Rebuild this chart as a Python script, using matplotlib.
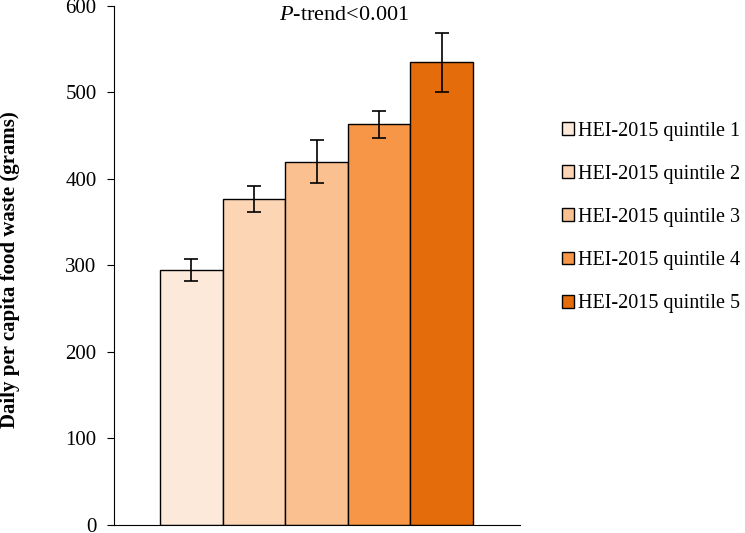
import numpy as np
import matplotlib.pyplot as plt

labels = ['HEI-2015 quintile 1', 'HEI-2015 quintile 2', 'HEI-2015 quintile 3',
          'HEI-2015 quintile 4', 'HEI-2015 quintile 5']
means = [295, 377, 420, 463, 535]
errs = [13, 15, 25, 16, 34]
colors = ['#FDE9D9', '#FCD5B5', '#FAC090', '#F79646', '#E46C0A']

plt.rcParams['font.family'] = ['Liberation Serif', 'DejaVu Serif']
plt.rcParams['mathtext.fontset'] = 'custom'
plt.rcParams['mathtext.it'] = 'Liberation Serif:italic'
plt.rcParams['mathtext.rm'] = 'Liberation Serif'

fig = plt.figure(figsize=(7.45, 5.33), dpi=100)
ax = fig.add_axes([0.153, 0.015, 0.545, 0.974])

x = np.arange(len(means))
handles = []
for i in range(len(means)):
    b = ax.bar(x[i], means[i], width=1.0, color=colors[i], edgecolor='black',
               linewidth=1.0, label=labels[i])
    handles.append(b)
ax.errorbar(x, means, yerr=errs, fmt='none', ecolor='black', elinewidth=1.2,
            capsize=5, capthick=1.2)

ax.set_xlim(-1.235, 5.25)
ax.set_ylim(0, 600)
ax.set_yticks(range(0, 601, 100))
ax.set_xticks([])
ax.spines['top'].set_visible(False)
ax.spines['right'].set_visible(False)
ax.tick_params(axis='y', direction='out', length=5, labelsize=15, pad=7.5)
ax.set_ylabel('Daily per capita food waste (grams)', fontsize=15,
              fontweight='bold')
ax.yaxis.set_label_coords(-0.232, 0.492)

ax.text(344 / 745, 1 - 15 / 533, '$\\it{P}$-trend<0.001', transform=fig.transFigure,
        ha='center', va='center', fontsize=16)

fig.legend(handles=handles, labels=labels, loc='center left',
           bbox_to_anchor=(0.754, 0.592), frameon=False, fontsize=14.5,
           handlelength=0.6, handleheight=0.6, handletextpad=0.2,
           labelspacing=1.2, borderpad=0, borderaxespad=0)

fig.savefig('out.png', dpi=100)
